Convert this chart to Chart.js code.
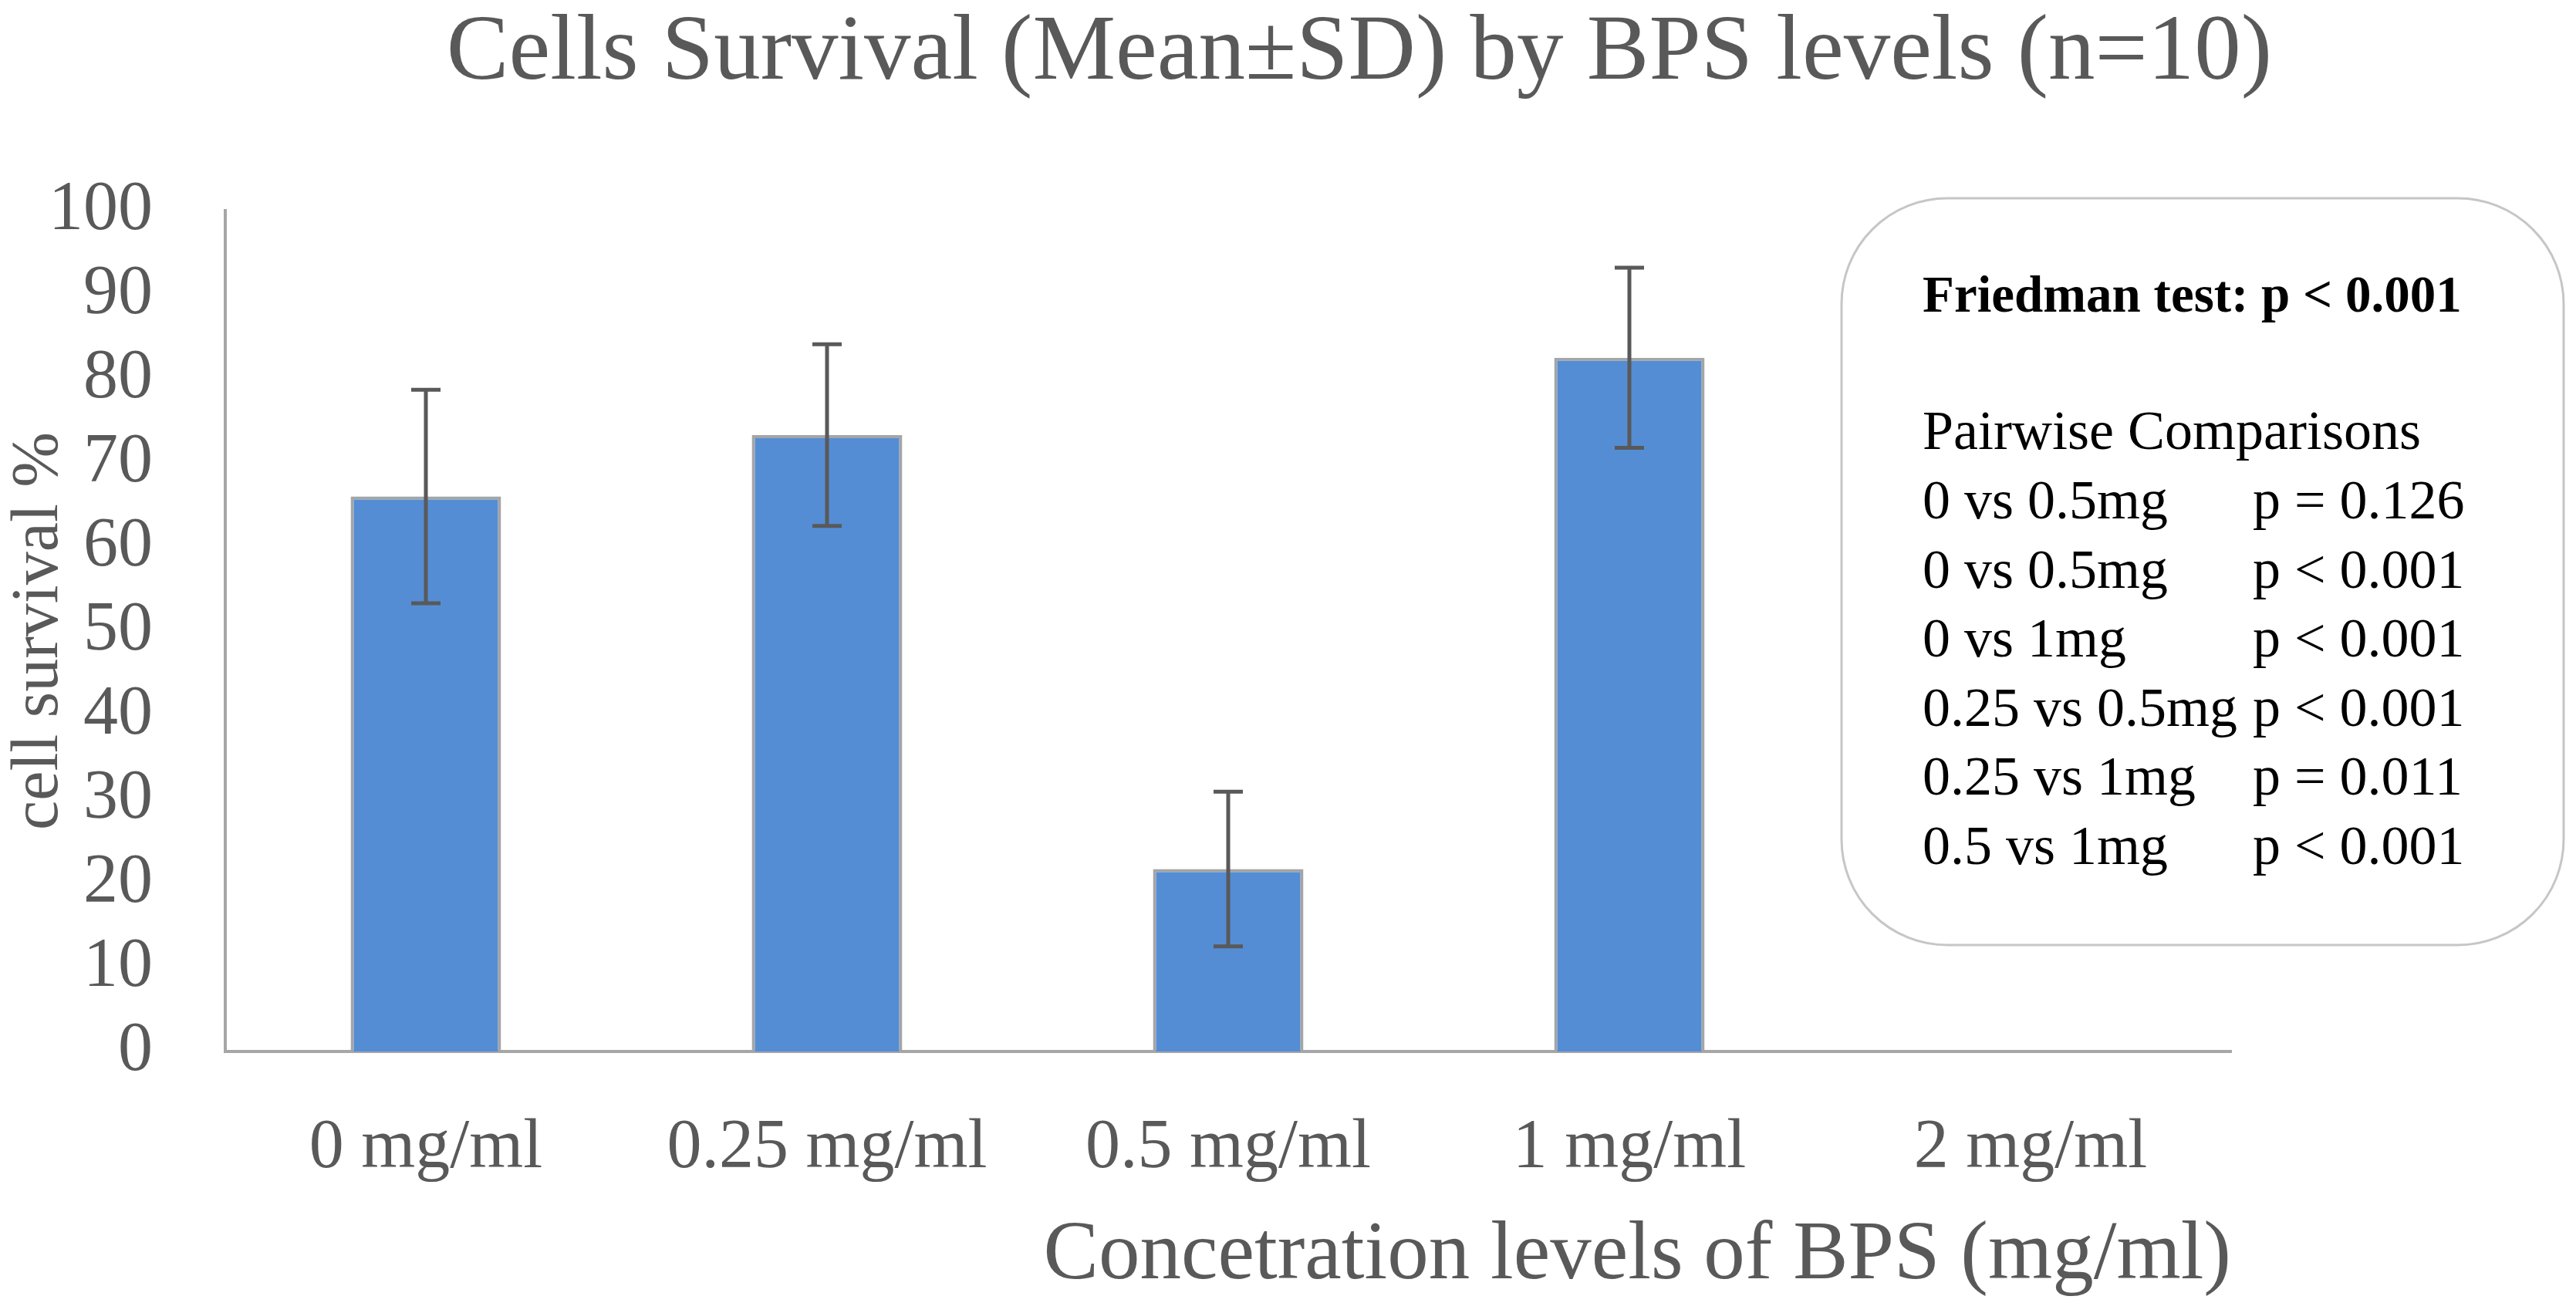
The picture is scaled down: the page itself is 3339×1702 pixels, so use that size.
<!DOCTYPE html>
<html>
<head>
<meta charset="utf-8">
<title>Cells Survival by BPS levels</title>
<script src="https://cdn.jsdelivr.net/npm/chart.js@4.4.1/dist/chart.umd.min.js"></script>
<style>
    html, body { margin: 0; padding: 0; background: #ffffff; }
    .chart-wrap { width: 3339px; height: 1702px; position: relative; }
</style>
</head>
<body>
<div class="chart-wrap"><canvas id="survivalChart"></canvas></div>
<script>
// data
const categories = ['0 mg/ml', '0.25 mg/ml', '0.5 mg/ml', '1 mg/ml', '2 mg/ml'];
const meanSurvival = [66.0, 73.3, 21.7, 82.5, null];
const sdSurvival = [12.7, 10.8, 9.2, 10.7, null];
const yMin = 0;
const yMax = 100;
const yStep = 10;

const chartTitle = 'Cells Survival (Mean±SD) by BPS levels (n=10)';
const xTitle = 'Concetration levels of BPS (mg/ml)';
const yTitle = 'cell survival %';

const friedmanLine = 'Friedman test: p < 0.001';
const pairHeader = 'Pairwise Comparisons';
const pairNames = ['0 vs 0.5mg', '0 vs 0.5mg', '0 vs 1mg', '0.25 vs 0.5mg', '0.25 vs 1mg', '0.5 vs 1mg'];
const pairValues = ['p = 0.126', 'p < 0.001', 'p < 0.001', 'p < 0.001', 'p = 0.011', 'p < 0.001'];

const serif = "'Liberation Serif', 'Times New Roman', serif";
const textGray = '#595959';
const axisGray = '#a6a6a6';

// error bars (mean ± SD)
const errorBars = {
    id: 'errorBars',
    afterDatasetsDraw(chart) {
        const ctx = chart.ctx;
        const meta = chart.getDatasetMeta(0);
        const y = chart.scales.y;
        ctx.save();
        ctx.strokeStyle = textGray;
        ctx.lineWidth = 5;
        meta.data.forEach((bar, i) => {
            const m = meanSurvival[i];
            const sd = sdSurvival[i];
            if (m == null || sd == null) return;
            const top = y.getPixelForValue(m + sd);
            const bottom = y.getPixelForValue(m - sd);
            const x = bar.x;
            const cap = 19;
            ctx.beginPath();
            ctx.moveTo(x, top);
            ctx.lineTo(x, bottom);
            ctx.moveTo(x - cap, top);
            ctx.lineTo(x + cap, top);
            ctx.moveTo(x - cap, bottom);
            ctx.lineTo(x + cap, bottom);
            ctx.stroke();
        });
        ctx.restore();
    }
};

// title and statistics box
const annotations = {
    id: 'annotations',
    afterDraw(chart) {
        const ctx = chart.ctx;
        ctx.save();

        ctx.fillStyle = textGray;
        ctx.font = '121px ' + serif;
        ctx.textAlign = 'center';
        ctx.textBaseline = 'alphabetic';
        ctx.fillText(chartTitle, 1762, 102);

        // rounded box
        const bx = 2387, by = 257, bw = 936, bh = 968, r = 137;
        ctx.beginPath();
        ctx.roundRect(bx, by, bw, bh, r);
        ctx.fillStyle = '#ffffff';
        ctx.fill();
        ctx.strokeStyle = '#c6c6c6';
        ctx.lineWidth = 3;
        ctx.stroke();

        ctx.fillStyle = '#000000';
        ctx.textAlign = 'left';
        ctx.font = 'bold 67px ' + serif;
        ctx.fillText(friedmanLine, 2492, 404);

        ctx.font = '72px ' + serif;
        ctx.fillText(pairHeader, 2492, 582);
        pairNames.forEach((name, i) => {
            const lineY = 672 + i * 89.6;
            ctx.fillText(name, 2492, lineY);
            ctx.fillText(pairValues[i], 2920, lineY);
        });

        ctx.restore();
    }
};

document.addEventListener('DOMContentLoaded', function() {
    const canvas = document.getElementById('survivalChart');

    new Chart(canvas, {
        type: 'bar',
        data: {
            labels: categories,
            datasets: [{
                label: 'cell survival %',
                data: meanSurvival,
                backgroundColor: '#548dd4',
                borderColor: '#a5a5a5',
                borderWidth: 4,
                borderSkipped: 'bottom',
                categoryPercentage: 1.0,
                barPercentage: 0.375
            }]
        },
        options: {
            responsive: true,
            maintainAspectRatio: false,
            devicePixelRatio: 1,
            animation: false,
            layout: {
                padding: { top: 273, right: 447, bottom: 0, left: 0 }
            },
            plugins: {
                legend: { display: false },
                tooltip: { enabled: false },
                title: { display: false }
            },
            scales: {
                x: {
                    grid: { display: false, drawTicks: false },
                    border: { display: true, color: axisGray, width: 4 },
                    ticks: {
                        color: textGray,
                        padding: 72,
                        autoSkip: false,
                        maxRotation: 0,
                        font: { family: serif, size: 90 }
                    },
                    title: {
                        display: true,
                        text: xTitle,
                        align: 'end',
                        color: textGray,
                        font: { family: serif, size: 107 },
                        padding: { top: 0, bottom: 9 }
                    },
                    afterFit(scale) { scale.height = 339; }
                },
                y: {
                    min: yMin,
                    max: yMax,
                    grid: { display: false, drawTicks: false },
                    border: { display: true, color: axisGray, width: 4 },
                    ticks: {
                        stepSize: yStep,
                        autoSkip: false,
                        color: textGray,
                        padding: 94,
                        font: { family: serif, size: 90 }
                    },
                    title: {
                        display: true,
                        text: yTitle,
                        color: textGray,
                        font: { family: serif, size: 86 },
                        padding: 0
                    },
                    afterFit(scale) { scale.width = 292; }
                }
            }
        },
        plugins: [errorBars, annotations]
    });
});
</script>
</body>
</html>
